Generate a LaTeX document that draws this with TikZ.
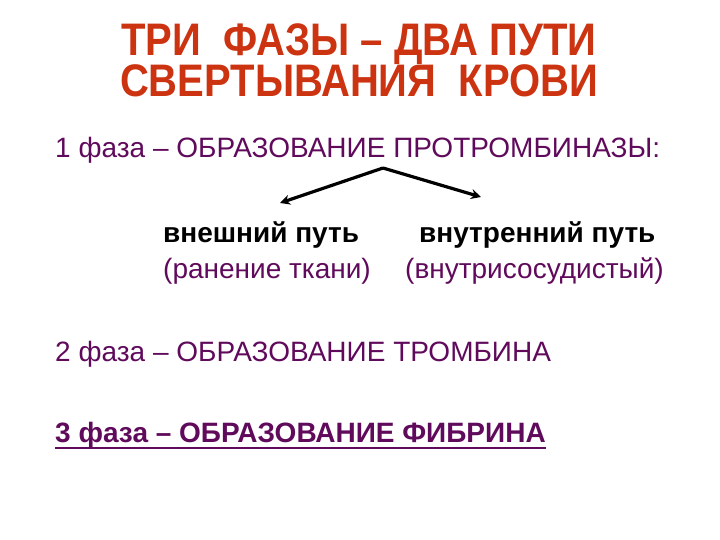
\documentclass[tikz,border=0pt]{standalone}
\usepackage{fontspec}
\setmainfont{Liberation Sans}
\usepackage{tikz}
\usetikzlibrary{arrows.meta}

\definecolor{titlered}{RGB}{204,51,17}
\definecolor{phasepurple}{RGB}{96,10,92}

\begin{document}
\begin{tikzpicture}[x=1pt,y=-1pt,
  titletext/.style={anchor=base,inner sep=0pt,text=titlered,font=\fontsize{40}{40}\selectfont\bfseries,yscale=1.14},
  phasetext/.style={anchor=base west,inner sep=0pt,text=phasepurple,font=\fontsize{28}{28}\selectfont},
  pathtext/.style={anchor=base west,inner sep=0pt,text=black,font=\fontsize{28}{28}\selectfont\bfseries},
  notetext/.style={anchor=base west,inner sep=0pt,text=phasepurple,font=\fontsize{28}{28}\selectfont},
  splitarrow/.style={line width=3.2pt,-{Stealth[length=10pt,width=10pt]}}]
%set diagram size 720 x 540
\useasboundingbox (0,0) rectangle (720,540);

% Text Node
\node[titletext] (title1) at (359,56) {ТРИ\ \ ФАЗЫ – ДВА ПУТИ};
% Text Node
\node[titletext] (title2) at (359,97) {СВЕРТЫВАНИЯ\ \ КРОВИ};
% Text Node
\node[phasetext] (phase1) at (55,158) {1 фаза – ОБРАЗОВАНИЕ ПРОТРОМБИНАЗЫ:};

% Text Node
\node[pathtext] (extpath) at (163,242) {внешний путь};
% Text Node
\node[pathtext] (intpath) at (419,242) {внутренний путь};
% Text Node
\node[notetext] (extnote) at (163,278) {(ранение ткани)};
% Text Node
\node[notetext] (intnote) at (405,278) {(внутрисосудистый)};

% Text Node
\node[phasetext] (phase2) at (55,361) {2 фаза – ОБРАЗОВАНИЕ ТРОМБИНА};
% Text Node
\node[phasetext,font=\fontsize{28}{28}\selectfont\bfseries] (phase3) at (55,442) {3 фаза – ОБРАЗОВАНИЕ ФИБРИНА};

%Straight Lines
\coordinate (fork) at (383,168);
\coordinate (exttip) at (280,203);
\coordinate (inttip) at (481,197);
\draw[splitarrow] (fork) -- (exttip);
\draw[splitarrow] (fork) -- (inttip);

%Straight Lines (underline)
\draw[phasepurple,line width=2pt] ([yshift=-6pt]phase3.base west) -- ([yshift=-6pt]phase3.base east);

\end{tikzpicture}
\end{document}
